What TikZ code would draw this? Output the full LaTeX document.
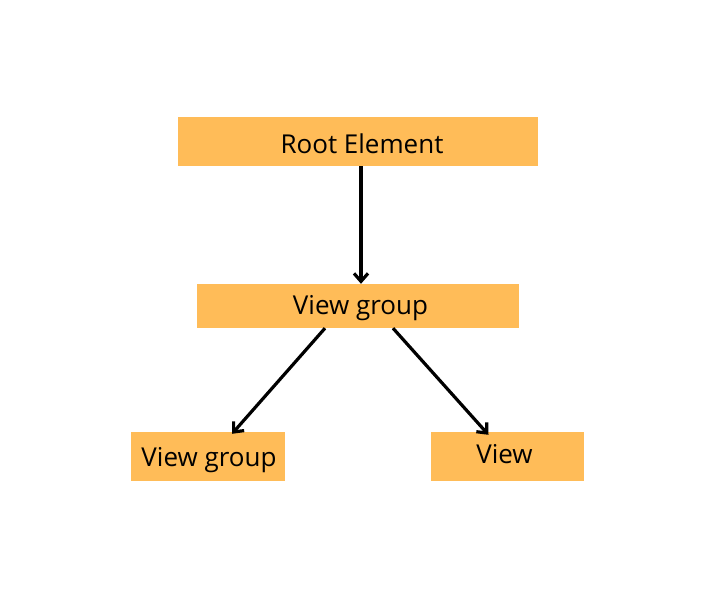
\documentclass[tikz,border=0pt]{standalone}
\usepackage{fontspec}
\setmainfont{Open Sans}
\usepackage{xcolor}
\usetikzlibrary{arrows.meta}
\usetikzlibrary{calc}
\definecolor{boxorange}{HTML}{FFBC58}
% move a label inside its box: \nudge{dx}{dy}{text}
\newcommand{\nudge}[3]{\hspace*{#1}\raisebox{#2}{#3}\hspace*{-#1}}

\begin{document}
\begin{tikzpicture}[x=1pt,y=-1pt,>={Straight Barb[length=8pt,width=14pt]}]
	\tikzstyle{elem}=[fill=boxorange, inner sep=0pt, text height=18.5pt, text depth=0pt, font=\fontsize{26}{30}\selectfont]
	\useasboundingbox (0,0) rectangle (716,600);
	\node[elem, minimum width=360pt, minimum height=49pt] (root) at (358,141.5) {\nudge{4pt}{-3pt}{Root Element}};
	\node[elem, minimum width=322pt, minimum height=44pt] (mid) at (358,306) {\nudge{2.5pt}{0.5pt}{View group}};
	\node[elem, minimum width=154pt, minimum height=49pt] (left) at (208,456.5) {\nudge{1pt}{-1pt}{View group}};
	\node[elem, minimum width=153pt, minimum height=49pt] (right) at (507.5,456.5) {\nudge{-3pt}{2pt}{View}};
	\path[->, line width=3.2pt]
		([xshift=3pt]root.south) edge ([xshift=3pt]mid.north)
		([xshift=-33pt]mid.south) edge ([xshift=24pt,yshift=-2pt]left.north)
		([xshift=35pt]mid.south) edge ([xshift=-19pt,yshift=-3pt]right.north);
\end{tikzpicture}
\end{document}
